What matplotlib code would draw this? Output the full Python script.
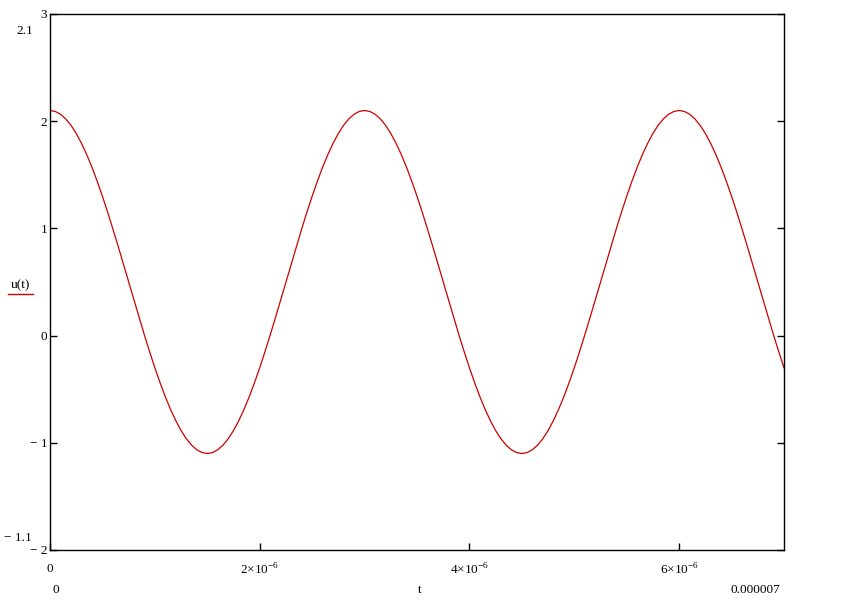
import matplotlib.pyplot as plt
from matplotlib.ticker import FixedLocator

t_us = [i / 20 for i in range(141)]
u = [2.1, 2.091, 2.065, 2.022, 1.962, 1.886, 1.794, 1.689, 1.571, 1.44,
     1.3, 1.151, 0.994, 0.833, 0.667, 0.5, 0.333, 0.167, 0.006, -0.151,
     -0.3, -0.44, -0.571, -0.689, -0.794, -0.886, -0.962, -1.022, -1.065, -1.091,
     -1.1, -1.091, -1.065, -1.022, -0.962, -0.886, -0.794, -0.689, -0.571, -0.44,
     -0.3, -0.151, 0.006, 0.167, 0.333, 0.5, 0.667, 0.833, 0.994, 1.151,
     1.3, 1.44, 1.571, 1.689, 1.794, 1.886, 1.962, 2.022, 2.065, 2.091,
     2.1, 2.091, 2.065, 2.022, 1.962, 1.886, 1.794, 1.689, 1.571, 1.44,
     1.3, 1.151, 0.994, 0.833, 0.667, 0.5, 0.333, 0.167, 0.006, -0.151,
     -0.3, -0.44, -0.571, -0.689, -0.794, -0.886, -0.962, -1.022, -1.065, -1.091,
     -1.1, -1.091, -1.065, -1.022, -0.962, -0.886, -0.794, -0.689, -0.571, -0.44,
     -0.3, -0.151, 0.006, 0.167, 0.333, 0.5, 0.667, 0.833, 0.994, 1.151,
     1.3, 1.44, 1.571, 1.689, 1.794, 1.886, 1.962, 2.022, 2.065, 2.091,
     2.1, 2.091, 2.065, 2.022, 1.962, 1.886, 1.794, 1.689, 1.571, 1.44,
     1.3, 1.151, 0.994, 0.833, 0.667, 0.5, 0.333, 0.167, 0.006, -0.151,
     -0.3]
t = [x * 1e-6 for x in t_us]

x_ticks = [0, 2e-6, 4e-6, 6e-6]
x_labels = ["0", r"2$\times$10$^{-6}$", r"4$\times$10$^{-6}$", r"6$\times$10$^{-6}$"]
y_ticks = [-2, -1, 0, 1, 2, 3]
y_labels = ["\u2212 2", "\u2212 1", "0", "1", "2", "3"]

plt.rcParams['font.family'] = ['Liberation Serif', 'DejaVu Serif']
plt.rcParams['mathtext.fontset'] = 'custom'
plt.rcParams['mathtext.rm'] = 'Liberation Serif'

W, H = 844, 604
fig = plt.figure(figsize=(W / 100, H / 100), dpi=100)
ax = fig.add_axes([50 / W, 1 - 550 / H, 734 / W, 536 / H])

ax.plot(t, u, color='#cc0000', lw=0.9)
ax.set_xlim(0, 7e-6)
ax.set_ylim(-2, 3)

ax.xaxis.set_major_locator(FixedLocator(x_ticks))
ax.set_xticklabels(x_labels)
ax.yaxis.set_major_locator(FixedLocator(y_ticks))
ax.set_yticklabels(y_labels)
ax.tick_params(direction='in', length=5, width=1, labelsize=9.5, pad=2,
               left=True, right=True, bottom=True, top=False)
ax.tick_params(axis='x', pad=9)
for s in ax.spines.values():
    s.set_linewidth(1.0)

def px(x, y, s, **kw):
    fig.text(x / W, 1 - y / H, s, fontsize=9.5, **kw)

px(25, 31, "2.1", ha='center', va='center')
px(18, 538, "\u2212 1.1", ha='center', va='center')
px(56, 590, "0", ha='center', va='center')
px(420, 590, "t", ha='center', va='center')
px(755, 590, "0.000007", ha='center', va='center')
px(20, 285, "u(t)", ha='center', va='center')
fig.add_artist(plt.Line2D([8 / W, 33 / W], [1 - 294 / H, 1 - 294 / H],
                          color='#cc0000', lw=1.0))

fig.savefig("out.png", dpi=100)
